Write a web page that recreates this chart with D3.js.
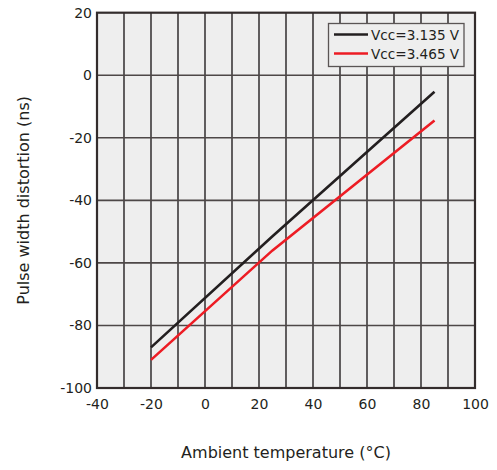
<!DOCTYPE html>
<html>
<head>
<meta charset="utf-8">
<script src="https://cdn.jsdelivr.net/npm/d3@7"></script>
<style>
  body { margin: 0; background: #fff; }
  text { font-family: "DejaVu Sans", Verdana, sans-serif; fill: #231f20; }
</style>
</head>
<body>
<script>
// chart data
const seriesNames = ['Vcc=3.135 V', 'Vcc=3.465 V'];
const seriesColors = ['#231f20', '#ed1c24'];
const temps = [-20, 25, 85];
const pwdLow = [-87, -51.5, -5.3];
const pwdHigh = [-91, -56, -14.5];
const xTicks = [-40, -20, 0, 20, 40, 60, 80, 100];
const yTicks = [-100, -80, -60, -40, -20, 0, 20];

const W = 497, H = 470;
const M = { left: 97, right: 475, top: 12.7, bottom: 388 };

const svg = d3.select('body')
              .append('svg')
              .attr('width', W)
              .attr('height', H);

const xScale = d3.scaleLinear().domain([-40, 100]).range([M.left, M.right]);
const yScale = d3.scaleLinear().domain([-100, 20]).range([M.bottom, M.top]);

// plot background
svg.append('rect')
   .attr('x', M.left).attr('y', M.top)
   .attr('width', M.right - M.left).attr('height', M.bottom - M.top)
   .attr('fill', '#eeeeee');

// vertical grid every 10
svg.append('g')
   .selectAll('line')
   .data(d3.range(-30, 100, 10))
   .enter().append('line')
   .attr('x1', d => xScale(d)).attr('x2', d => xScale(d))
   .attr('y1', M.top).attr('y2', M.bottom)
   .attr('stroke', '#231f20').attr('stroke-width', 1.4);

// horizontal grid at y ticks
svg.append('g')
   .selectAll('line')
   .data(yTicks.slice(1, -1))
   .enter().append('line')
   .attr('x1', M.left).attr('x2', M.right)
   .attr('y1', d => yScale(d)).attr('y2', d => yScale(d))
   .attr('stroke', '#4d4747').attr('stroke-width', 1.6);

// frame
svg.append('rect')
   .attr('x', M.left).attr('y', M.top)
   .attr('width', M.right - M.left).attr('height', M.bottom - M.top)
   .attr('fill', 'none').attr('stroke', '#332c2c').attr('stroke-width', 2.2);

// axes (labels only, plain hyphen minus)
const fmt = d => String(d);
const xAxis = d3.axisBottom(xScale).tickValues(xTicks).tickFormat(fmt).tickSize(0).tickPadding(11);
const yAxis = d3.axisLeft(yScale).tickValues(yTicks).tickFormat(fmt).tickSize(0).tickPadding(5);

const gx = svg.append('g')
   .attr('transform', `translate(0, ${M.bottom})`)
   .call(xAxis);
const gy = svg.append('g')
   .attr('transform', `translate(${M.left}, 0)`)
   .call(yAxis);
[gx, gy].forEach(g => {
  g.select('.domain').remove();
  g.selectAll('text').style('font-size', '14px').attr('fill', '#231f20')
   .style('font-family', '"DejaVu Sans", Verdana, sans-serif');
});

// series lines
const line = d3.line()
               .x((d, i) => xScale(temps[i]))
               .y(d => yScale(d));

[pwdLow, pwdHigh].forEach((s, k) => {
  svg.append('path')
     .datum(s)
     .attr('d', line)
     .attr('fill', 'none')
     .attr('stroke', seriesColors[k])
     .attr('stroke-width', 2.6);
});

// legend
const lg = svg.append('g');
lg.append('rect')
  .attr('x', 328.5).attr('y', 23.5).attr('width', 135.5).attr('height', 43)
  .attr('fill', '#eeeeee').attr('stroke', '#5a5555').attr('stroke-width', 1.3);
seriesNames.forEach((n, k) => {
  const y = 34.5 + k * 19;
  lg.append('line')
    .attr('x1', 334).attr('x2', 368).attr('y1', y).attr('y2', y)
    .attr('stroke', seriesColors[k]).attr('stroke-width', 2.6);
  lg.append('text')
    .attr('x', 371).attr('y', y + 5)
    .style('font-size', '13.6px')
    .text(n);
});

// axis titles
svg.append('text')
   .attr('x', (M.left + M.right) / 2).attr('y', 458)
   .attr('text-anchor', 'middle')
   .style('font-size', '16px')
   .text('Ambient temperature (°C)');

svg.append('text')
   .attr('transform', `translate(29, ${(M.top + M.bottom) / 2}) rotate(-90)`)
   .attr('text-anchor', 'middle')
   .style('font-size', '16px')
   .text('Pulse width distortion (ns)');
</script>
</body>
</html>
